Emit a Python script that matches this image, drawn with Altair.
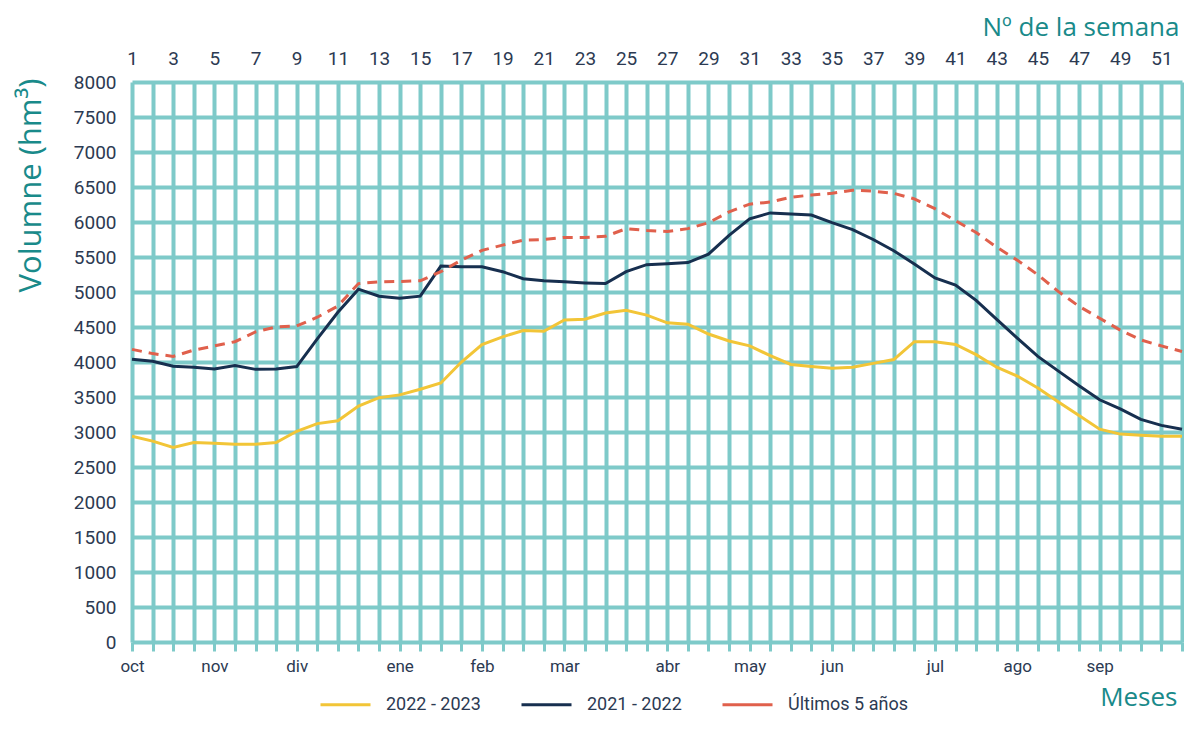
import altair as alt
import pandas as pd

weeks = list(range(1, 53))
s2223 = [2940, 2870, 2780, 2850, 2840, 2825, 2825, 2850, 3010, 3120,
         3160, 3370, 3490, 3530, 3610, 3700, 4000, 4250, 4360, 4450,
         4440, 4600, 4610, 4700, 4740, 4670, 4560, 4540, 4400, 4300,
         4230, 4090, 3965, 3935, 3910, 3925, 3980, 4035, 4290, 4290,
         4250, 4105, 3925, 3800, 3630, 3430, 3235, 3040, 2970, 2955,
         2940, 2940]
s2122 = [4040, 4010, 3940, 3925, 3900, 3950, 3895, 3900, 3935, 4330,
         4710, 5040, 4940, 4910, 4940, 5370, 5360, 5360, 5290, 5190,
         5160, 5145, 5130, 5120, 5290, 5390, 5405, 5420, 5540, 5810,
         6045, 6130, 6115, 6100, 5990, 5890, 5750, 5590, 5400, 5200,
         5100, 4880, 4610, 4340, 4080, 3870, 3660, 3460, 3330, 3180,
         3095, 3040]
s5y = [4180, 4120, 4080, 4170, 4230, 4290, 4430, 4500, 4515, 4640,
       4800, 5120, 5145, 5150, 5160, 5290, 5455, 5595, 5670, 5740,
       5750, 5780, 5780, 5795, 5905, 5880, 5865, 5905, 5990, 6145,
       6255, 6285, 6355, 6385, 6410, 6455, 6440, 6410, 6330, 6190,
       6020, 5850, 5640, 5455, 5245, 5005, 4795, 4625, 4455, 4315,
       4230, 4150]
series_names = ["2022 - 2023", "2021 - 2022", "Últimos 5 años"]
series_colors = ["#f2c537", "#172f4f", "#e0604c"]
month_labels = ["oct", "nov", "div", "ene", "feb", "mar", "abr", "may", "jun", "jul", "ago", "sep"]
month_weeks = [1, 5, 9, 14, 18, 22, 27, 31, 35, 40, 44, 48]
y_ticks = list(range(0, 8001, 500))
top_ticks = list(range(1, 52, 2))

TEAL = "#7ecac9"
TITLE = "#198a8a"
LABEL = "#2c3a52"
LFONT = "Roboto"
TFONT = "Open Sans"

W, H = 1050, 560

solid_rows = []
for name, vals in zip(series_names[:2], [s2223, s2122]):
    for w, v in zip(weeks, vals):
        solid_rows.append({"week": w, "value": v, "serie": name})
df_solid = pd.DataFrame(solid_rows)
df_dash = pd.DataFrame({"week": weeks, "value": s5y})

label_expr = ("[" + ",".join(f"'{m}'" for m in month_labels) + "][indexof(["
              + ",".join(str(w) for w in month_weeks) + "], datum.value)] || ''")

xscale = alt.Scale(domain=[1, 52], nice=False, zero=False)
yscale = alt.Scale(domain=[0, 8000], nice=False)

bottom_axis = alt.Axis(
    orient="bottom", values=weeks, labelExpr=label_expr, grid=True,
    gridColor=TEAL, gridWidth=4, gridOpacity=1, tickColor=TEAL, tickWidth=3,
    tickSize=9, domain=False, labelFont=LFONT, labelFontSize=17,
    labelColor=LABEL, labelPadding=7, labelOverlap=False, labelFlush=False,
    title="Meses", titleX=W - 5, titleY=63, titleAlign="right",
    titleBaseline="alphabetic", titleFont=TFONT, titleFontSize=26,
    titleColor=TITLE, titleFontWeight="normal",
)
top_axis = alt.Axis(
    orient="top", values=top_ticks, grid=False, ticks=False, domain=False,
    labelFont=LFONT, labelFontSize=19, labelColor=LABEL, labelPadding=14,
    labelOverlap=False, labelFlush=False,
    title="Nº de la semana", titleX=W - 3, titleY=-47, titleAlign="right",
    titleBaseline="alphabetic", titleFont=TFONT, titleFontSize=26,
    titleColor=TITLE, titleFontWeight="normal",
)
y_axis = alt.Axis(
    values=y_ticks, format="d", grid=True, gridColor=TEAL, gridWidth=4,
    gridOpacity=1, ticks=False, domain=False, labelFont=LFONT,
    labelFontSize=19, labelColor=LABEL, labelPadding=16,
    title="Volumne (hm³)", titleX=-92, titleY=-4, titleAlign="right",
    titleBaseline="alphabetic", titleFont=TFONT, titleFontSize=31,
    titleColor=TITLE, titleFontWeight="normal",
)

solid = alt.Chart(df_solid).mark_line(strokeWidth=3).encode(
    x=alt.X("week:Q", scale=xscale, axis=bottom_axis),
    y=alt.Y("value:Q", scale=yscale, axis=y_axis),
    color=alt.Color(
        "serie:N",
        scale=alt.Scale(domain=series_names, range=series_colors),
        sort=series_names,
        legend=alt.Legend(
            orient="none", legendX=187, legendY=596, direction="horizontal",
            title=None, symbolType="stroke", symbolSize=2500,
            symbolStrokeWidth=3, labelFont=LFONT,
            labelFontSize=18, labelColor=LABEL, labelOffset=14,
            columnPadding=34,
        ),
    ),
)

dashed = alt.Chart(df_dash).mark_line(
    strokeWidth=3, strokeDash=[10, 7], color=series_colors[2]
).encode(
    x=alt.X("week:Q", scale=xscale, axis=None),
    y=alt.Y("value:Q", scale=yscale, axis=y_axis),
)

top = alt.Chart(pd.DataFrame({"week": top_ticks})).mark_rule(opacity=0).encode(
    x=alt.X("week:Q", scale=xscale, axis=top_axis),
)

chart = alt.layer(solid, dashed, top).resolve_axis(x="independent").properties(
    width=W, height=H,
    autosize=alt.AutoSizeParams(type="none"),
    padding={"left": 124, "top": 74, "right": 2, "bottom": 71},
).configure_view(stroke=None)

chart.save("out.html", embed_options={"renderer": "svg", "actions": False})
